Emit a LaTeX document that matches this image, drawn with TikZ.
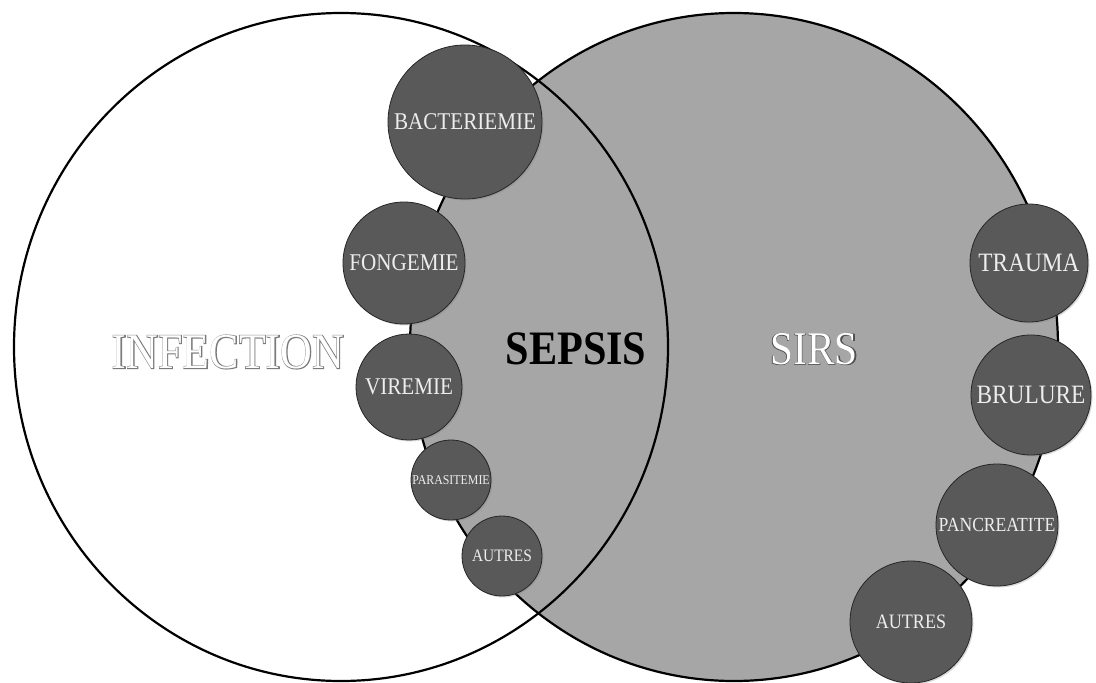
\documentclass[tikz,border=0pt]{standalone}
\usepackage{fontspec}
\setmainfont{Liberation Serif}[FakeStretch=0.88]
\newfontfamily\outlinefont{Liberation Serif}[FakeStretch=0.88,FakeBold=3]
\newfontfamily\thinoutlinefont{Liberation Serif}[FakeStretch=0.9,FakeBold=1.6]
\usetikzlibrary{shadows,shapes.geometric}
\definecolor{sirsgray}{HTML}{A6A6A6}
\definecolor{dotgray}{HTML}{595959}
\definecolor{labelgray}{HTML}{EDEDED}
\definecolor{outgray}{HTML}{7A7A7A}
\definecolor{sirsout}{HTML}{505050}
\newcommand{\lbl}[2]{\makebox[0pt][c]{\fontsize{#1}{#1}\selectfont #2}}
\begin{document}
\begin{tikzpicture}[x=1pt,y=-1pt,
  bigcircle/.style={ellipse, draw=black, line width=2.2pt, inner sep=0pt},
  dot/.style={circle, fill=dotgray, draw=black!85, line width=0.8pt, inner sep=0pt,
    text=labelgray, minimum size=#1,
    drop shadow={shadow xshift=1.5pt, shadow yshift=-1.5pt, opacity=0.3}},
  bigword/.style={inner sep=0pt, font=\fontsize{50}{50}\selectfont},
]
\useasboundingbox (0,0) rectangle (1096,683);
% big circles
\node[bigcircle, fill=sirsgray, minimum width=648pt, minimum height=668pt] (sirs) at (734,347) {};
\node[bigcircle, minimum width=654pt, minimum height=668pt] (infection) at (341,347) {};

% big words
\node[bigword, text=outgray] (infO) at (228,352) {\outlinefont INFECTION};
\node[bigword, text=white] (infW) at (228,352) {INFECTION};
\node[bigword, font=\fontsize{48}{48}\selectfont\bfseries, text=black] (sepsis) at (576,349) {SEPSIS};
\node[bigword, font=\fontsize{47}{47}\selectfont, text=sirsout] (sirsO) at (814,349) {\thinoutlinefont SIRS};
\node[bigword, font=\fontsize{47}{47}\selectfont, text=white] (sirsW) at (814,349) {SIRS};

% small circles, infection side
\node[dot=154pt] (bact) at (465,122) {\lbl{24}{BACTERIEMIE}};
\node[dot=122pt] (fong) at (404,263) {\lbl{24}{FONGEMIE}};
\node[dot=106pt] (vir) at (409,387) {\lbl{24}{VIREMIE}};
\node[dot=80pt] (para) at (451,480) {\lbl{13.5}{PARASITEMIE}};
\node[dot=80pt] (autres1) at (502,556) {\lbl{17.5}{AUTRES}};

% small circles, SIRS side
\node[dot=118pt] (trauma) at (1029,263) {\lbl{26.5}{TRAUMA}};
\node[dot=120pt] (brulure) at (1031,395) {\lbl{26.5}{BRULURE}};
\node[dot=122pt] (panc) at (997,525) {\lbl{20}{PANCREATITE}};
\node[dot=122pt] (autres2) at (911,622) {\lbl{20.5}{AUTRES}};
\end{tikzpicture}
\end{document}
